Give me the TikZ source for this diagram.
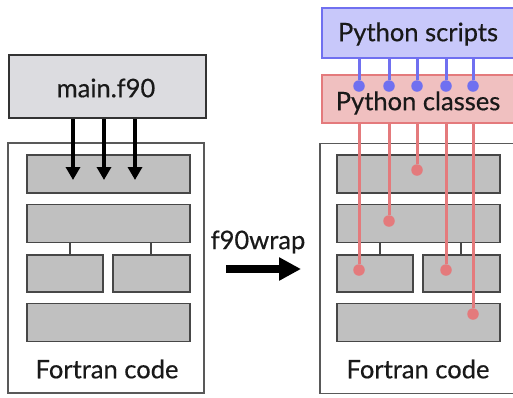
\documentclass[tikz,border=0pt]{standalone}
\usepackage{fontspec}
\setmainfont{Lato}
\newfontfamily\labelfont{Lato}[FakeBold=0.5]
\usetikzlibrary{arrows.meta}
\definecolor{mainfill}{HTML}{DCDCE0}
\definecolor{barfill}{HTML}{C0C0C0}
\definecolor{bluefill}{HTML}{C8C8FA}
\definecolor{blueline}{HTML}{7070F0}
\definecolor{redfill}{HTML}{F0C0C0}
\definecolor{redline}{HTML}{E47A7C}
\tikzset{
  outer/.style={draw=black!65, line width=1.8pt, fill=white, minimum width=196pt, minimum height=250pt, inner sep=0pt},
  bar/.style={draw=black!72, line width=1.8pt, fill=barfill, inner sep=0pt, minimum height=38pt},
  lbl/.style={font=\labelfont\fontsize{25.5}{30}\selectfont, inner sep=0pt, text=black!90},
  link/.style={draw=black!72, line width=1.8pt},
  darr/.style={line width=3.4pt, -{Triangle[width=14pt,length=13pt]}},
  bigarr/.style={line width=7.5pt, -{Triangle[width=22pt,length=22pt]}},
  bluel/.style={draw=blueline, line width=3pt},
  redl/.style={draw=redline, line width=3pt},
  bdot/.style={circle, fill=blueline, inner sep=0pt, minimum size=11.5pt},
  rdot/.style={circle, fill=redline, inner sep=0pt, minimum size=11.5pt},
}
\begin{document}
\begin{tikzpicture}[x=1pt,y=-1pt]
\useasboundingbox (0,0) rectangle (513,397);
\clip (0,0) rectangle (513,397);
% ---------- left ----------
\node[draw=black!80, line width=2.2pt, fill=mainfill, minimum width=197pt, minimum height=63pt, inner sep=0pt] (main) at (107.5,86.5) {};
\node[lbl] (mainlbl) at (106,88) {main.f90};
\node[outer] (outL) at (106,268) {};
\node[lbl] (fcL) at (107,369) {Fortran code};
\node[bar, minimum width=163pt] (bL1) at (108.5,174) {};
\node[bar, minimum width=163pt] (bL2) at (108.5,223.5) {};
\node[bar, minimum width=76pt, minimum height=37pt] (sL1) at (65,273.5) {};
\node[bar, minimum width=77pt, minimum height=37pt] (sL2) at (151.5,273.5) {};
\node[bar, minimum width=163pt] (bL3) at (108.5,322.5) {};
\draw[link] (bL2.south -| 70,0) -- (sL1.north -| 70,0);
\draw[link] (bL2.south -| 151,0) -- (sL2.north -| 151,0);
\coordinate (t1) at (73,180);
\coordinate (t2) at (104,180);
\coordinate (t3) at (135,180);
\draw[darr] (main.south -| t1) -- (t1);
\draw[darr] (main.south -| t2) -- (t2);
\draw[darr] (main.south -| t3) -- (t3);
% ---------- middle ----------
\node[lbl] (wrap) at (258,242) {f90wrap};
\coordinate (ws) at (226,269);
\coordinate (we) at (301,269);
\draw[bigarr] (ws) -- (we);
% ---------- right ----------
\node[outer] (outR) at (418,268.5) {};
\node[lbl] (fcR) at (418,369) {Fortran code};
\node[bar, minimum width=163pt] (bR1) at (418.5,174) {};
\node[bar, minimum width=163pt] (bR2) at (418.5,223.5) {};
\node[bar, minimum width=76pt, minimum height=37pt] (sR1) at (375,273.5) {};
\node[bar, minimum width=77pt, minimum height=37pt] (sR2) at (461.5,273.5) {};
\node[bar, minimum width=163pt] (bR3) at (418.5,322.5) {};
\draw[link] (bR2.south -| 380,0) -- (sR1.north -| 380,0);
\draw[link] (bR2.south -| 461,0) -- (sR2.north -| 461,0);
\node[draw=blueline, line width=2pt, fill=bluefill, minimum width=197pt, minimum height=50pt, inner sep=0pt] (scripts) at (420,33) {};
\node[lbl] (scriptslbl) at (418,34) {Python scripts};
\node[draw=redline, line width=2pt, fill=redfill, minimum width=197pt, minimum height=48pt, inner sep=0pt] (classes) at (420,99) {};
\node[lbl] (classeslbl) at (418,103) {Python classes};
% blue links
\foreach \i/\xx in {1/359,2/389,3/417,4/446,5/473}{
  \node[bdot] (bd\i) at (\xx,86) {};
  \draw[bluel] (scripts.south -| bd\i) -- (bd\i);
}
% red links
\node[rdot] (rd1) at (359,270) {};
\node[rdot] (rd2) at (389,221) {};
\node[rdot] (rd3) at (417,170) {};
\node[rdot] (rd4) at (446,270) {};
\node[rdot] (rd5) at (473,314) {};
\foreach \i in {1,...,5}{
  \draw[redl] (classes.south -| rd\i) -- (rd\i);
}
\end{tikzpicture}
\end{document}
